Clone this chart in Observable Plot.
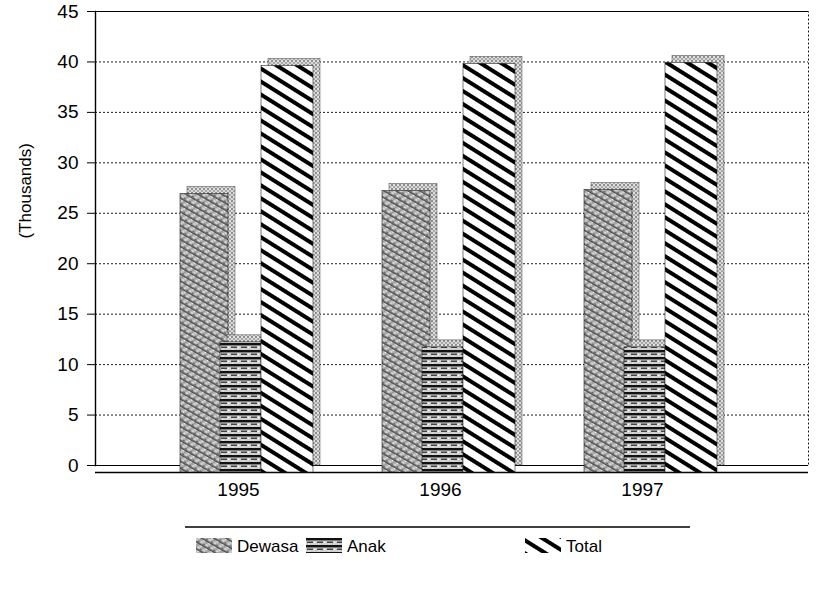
<!DOCTYPE html>
<html>
<head>
<meta charset="utf-8">
<script src="https://cdn.jsdelivr.net/npm/d3@7"></script>
<script src="https://cdn.jsdelivr.net/npm/@observablehq/plot@0.6"></script>
<style>
  body { margin: 0; background: #fff; font-family: "Liberation Sans", Arial, sans-serif; }
  #chart svg { display: block; }
</style>
</head>
<body>
<svg width="0" height="0" style="position:absolute">
  <defs>
    <pattern id="pat-dewasa" width="6" height="6" patternUnits="userSpaceOnUse" patternTransform="rotate(30)">
      <rect width="6" height="6" fill="#b8b8b8"/>
      <circle cx="1" cy="1" r="0.8" fill="#fff"/>
      <circle cx="4" cy="1.5" r="0.7" fill="#333"/>
      <circle cx="2.5" cy="4.5" r="0.8" fill="#fff"/>
      <circle cx="5" cy="5" r="0.6" fill="#444"/>
      <rect y="2.6" width="6" height="1.1" fill="#222"/>
    </pattern>
    <pattern id="pat-anak" width="10" height="7" patternUnits="userSpaceOnUse">
      <rect width="10" height="7" fill="#cfcfcf"/>
      <rect y="0" width="10" height="2.4" fill="#111"/>
      <rect x="1" y="3.6" width="6" height="1.2" fill="#222"/>
      <circle cx="8.5" cy="4.5" r="0.8" fill="#fff"/>
      <circle cx="3" cy="6" r="0.6" fill="#fff"/>
    </pattern>
    <pattern id="pat-total" width="11" height="11" patternUnits="userSpaceOnUse" patternTransform="rotate(32)">
      <rect width="11" height="11" fill="#ffffff"/>
      <rect y="0" width="11" height="4" fill="#000"/>
    </pattern>
    <pattern id="pat-side" width="4" height="4" patternUnits="userSpaceOnUse">
      <rect width="4" height="4" fill="#d8d8d8"/>
      <circle cx="1" cy="1" r="0.8" fill="#333"/>
      <circle cx="3" cy="3" r="0.7" fill="#555"/>
      <circle cx="3" cy="1" r="0.6" fill="#fff"/>
    </pattern>
  </defs>
</svg>
<div id="chart"></div>
<div id="legend"></div>
<script>
// ---- data ----
const years = ["1995", "1996", "1997"];
const series = ["Dewasa", "Anak", "Total"];
const dewasa = [27.6, 27.9, 28.0];
const anak = [12.9, 12.4, 12.4];
const total = [40.3, 40.5, 40.6];
const yTicks = [0, 5, 10, 15, 20, 25, 30, 35, 40, 45];
const yLabel = "(Thousands)";

const valuesBySeries = { Dewasa: dewasa, Anak: anak, Total: total };
const rows = years.flatMap((year, i) =>
  series.map(s => ({ year, series: s, value: valuesBySeries[s][i] }))
);

const fills = ["url(#pat-dewasa)", "url(#pat-anak)", "url(#pat-total)"];
// insets within each year's band (band width ~140px)
const insets = { Dewasa: [0, 92], Anak: [40, 59], Total: [81, 7] };
const depth = 7;

const barMarks = series.flatMap(s => {
  const data = rows.filter(d => d.series === s);
  const [il, ir] = insets[s];
  return [
    Plot.barY(data, { x: "year", y: "value", insetLeft: il, insetRight: ir, dx: depth,
      fill: "url(#pat-side)", stroke: "#444", strokeWidth: 0.5 }),
    Plot.barY(data, { x: "year", y: "value", insetLeft: il, insetRight: ir, dy: depth,
      fill: "series", stroke: "#222", strokeWidth: 0.6 })
  ];
});

const chart = Plot.plot({
  width: 827,
  height: 510,
  marginLeft: 95,
  marginRight: 19,
  marginTop: 11,
  marginBottom: 45,
  style: { fontFamily: "'Liberation Sans', Arial, sans-serif", fontSize: "18px", background: "#fff", color: "#000" },
  x: { type: "band", domain: years, paddingInner: 0.309, paddingOuter: 0.415, label: null },
  y: { domain: [0, 45], label: null },
  color: { type: "ordinal", domain: series, range: fills },
  marks: [
    Plot.ruleY(yTicks.filter(t => t > 0 && t < 45), { stroke: "#000", strokeWidth: 0.9, strokeDasharray: "2,2" }),
    Plot.frame({ stroke: "#000", strokeWidth: 0.9, strokeDasharray: "2,2" }),
    Plot.ruleY([45], { stroke: "#000", strokeWidth: 1.2 }),
    Plot.ruleY([0], { stroke: "#000", strokeWidth: 1.2 }),
    Plot.ruleY([0], { stroke: "#000", strokeWidth: 1.4, dy: depth }),
    ...barMarks,
    Plot.frame({ anchor: "left", stroke: "#000", strokeWidth: 1.4 }),
    Plot.axisY({ ticks: yTicks, tickSize: 8, tickPadding: 9, fontSize: 19, label: null }),
    Plot.axisX({ tickSize: 0, tickPadding: 17, dx: -12, fontSize: 19, label: null }),
    Plot.text([yLabel], { frameAnchor: "left", rotate: -90, dx: -70, fontSize: 17, fill: "#000" })
  ]
});
document.getElementById("chart").appendChild(chart);

// ---- legend below the chart ----
const lw = 827, lh = 88;
const leg = d3.select("#legend").append("svg").attr("width", lw).attr("height", lh).style("display", "block");
leg.append("line").attr("x1", 185).attr("x2", 690).attr("y1", 17).attr("y2", 17)
  .attr("stroke", "#000").attr("stroke-width", 1.3);
const legX = d3.scaleOrdinal().domain(series).range([196, 306, 525]);
const items = leg.selectAll("g.item").data(series).join("g")
  .attr("transform", s => `translate(${legX(s)},28)`);
items.append("rect").attr("width", 36).attr("height", 15)
  .attr("fill", (s, i) => fills[i]);
items.append("text").attr("x", 41).attr("y", 8)
  .attr("dy", "0.35em").attr("font-size", 17).attr("font-family", "'Liberation Sans', Arial, sans-serif")
  .text(s => s);
</script>
</body>
</html>
